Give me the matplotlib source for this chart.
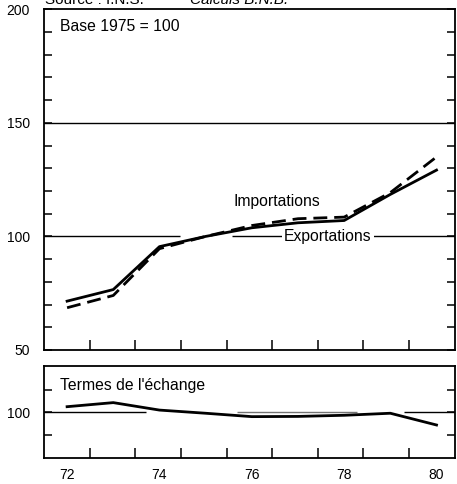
import matplotlib
matplotlib.use("Agg")
import matplotlib.pyplot as plt

plt.rcParams['font.family'] = ['Liberation Sans', 'DejaVu Sans']

# donnees (indices, base 1975 = 100)
annees = [72, 73, 74, 75, 76, 77, 78, 79, 80]
exportations = [71.5, 76.6, 95.5, 100, 103.8, 106.0, 107.0, 118.5, 129.2]
importations = [68.6, 74.0, 94.6, 100, 104.8, 107.8, 108.5, 119.3, 135.0]
termes = [102.5, 104.3, 101.0, 99.6, 98.1, 98.2, 98.7, 99.6, 94.4]

labels_x = [72, 74, 76, 78, 80]
ticks_x = [72.5, 73.47, 74.47, 75.46, 76.44, 77.43, 78.4, 79.4]
xmin, xmax = 71.5, 80.4

fig = plt.figure(figsize=(4.57, 4.84), dpi=100)
ax = fig.add_axes([0.0963, 0.2769, 0.8993, 0.7039])
ax2 = fig.add_axes([0.0963, 0.0537, 0.8993, 0.1901])

for a in (ax, ax2):
    for s in a.spines.values():
        s.set_linewidth(1.3)
    a.set_xlim(xmin, xmax)
    a.set_xticks(ticks_x)
    a.set_xticklabels([])
    a.tick_params(axis='x', direction='in', length=7, width=1.1, top=False)
    a.tick_params(axis='y', which='both', direction='in', left=True, right=True,
                  length=6, width=1.1, labelsize=10, pad=10)

# panneau principal
ax.set_ylim(50, 200)
ax.set_yticks([50, 100, 150, 200])
ax.set_yticks(range(60, 200, 10), minor=True)
ax.hlines(150, xmin, xmax, color='black', lw=1)
ax.hlines(100, xmin, 74.45, color='black', lw=1)
ax.hlines(100, 75.57, xmax, color='black', lw=1)

ax.plot(annees, exportations, color='black', lw=2)
ax.plot(annees, importations, color='black', lw=2, ls=(0, (5, 2.5)))

ax.text(76.55, 115.5, 'Importations', fontsize=11.3, ha='center', va='center')
ax.text(77.65, 100, 'Exportations', fontsize=11.3, ha='center', va='center',
        bbox=dict(facecolor='white', edgecolor='none', pad=1.5))
ax.text(71.85, 192.5, 'Base 1975 = 100', fontsize=11.3, ha='left', va='center')

# termes de l'echange
ax2.set_ylim(79.8, 120.5)
ax2.set_yticks([100])
ax2.set_yticks([90, 110], minor=True)
ax2.hlines(100, xmin, 73.71, color='black', lw=1)
ax2.hlines(100, 75.68, 78.28, color='0.45', lw=1)
ax2.hlines(100, 79.29, xmax, color='black', lw=1)
ax2.plot(annees, termes, color='black', lw=2)
ax2.text(71.85, 112, "Termes de l'échange", fontsize=11.3, ha='left', va='center')

for x in labels_x:
    ax2.text(x, -0.18, str(x), transform=ax2.get_xaxis_transform(),
             ha='center', va='center', fontsize=10)

# source, coupee en haut comme sur l'original
fig.text(45 / 457, 1 - 4 / 484, 'Source : I.N.S.', fontsize=11, va='baseline')
fig.text(190 / 457, 1 - 4 / 484, 'Calculs B.N.B.', fontsize=11, va='baseline', style='italic')

fig.savefig('out.png', dpi=100)
